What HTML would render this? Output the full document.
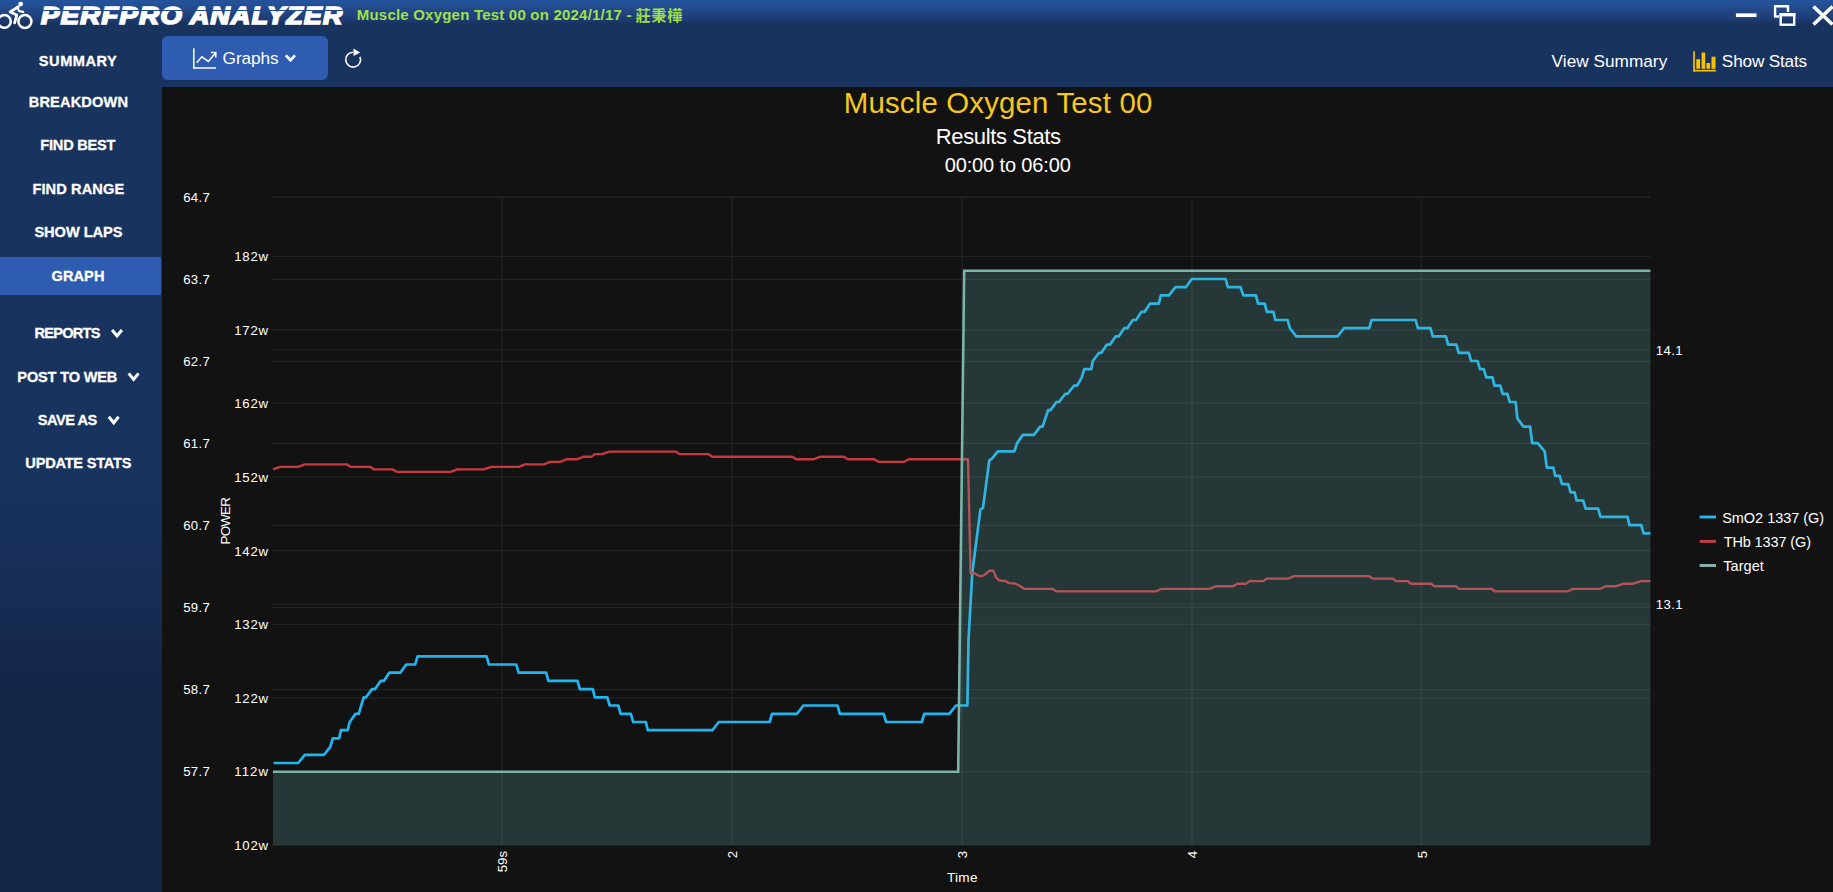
<!DOCTYPE html><html lang="en"><head><meta charset="utf-8"><title>PerfPRO Analyzer</title><style>
*{box-sizing:border-box;margin:0;padding:0}
html,body{width:1833px;height:892px;overflow:hidden;background:#19335f;font-family:"Liberation Sans", "Noto Sans CJK TC", sans-serif;color:#fff}
.a{position:absolute;white-space:nowrap}
#hdr{left:0;top:0;width:1833px;height:24px;background:linear-gradient(#25539b 0px,#24529a 2.5px,#234a8c 8px,#20417c 15px,#1c3b72 20px,#19335f 23.6px)}
#side{left:0;top:24px;width:161.6px;height:868px;background:linear-gradient(#19335f 0px,#19335f 462px,#17305a 500px,#142648 680px,#142648 100%)}
#chart{left:161.6px;top:87.2px;width:1671.4px;height:804.8px;background:#121212}
#active{left:0;top:256.7px;width:161px;height:37.9px;background:#2d5cb0}
#gbtn{left:161.5px;top:36px;width:166px;height:44.4px;border-radius:6px;background:#2d5cb0}
svg{position:absolute;left:0;top:0;overflow:visible}
svg text{font-family:"Liberation Sans", "Noto Sans CJK TC", sans-serif;fill:#fff}
</style></head><body>
<div id="hdr" class="a"></div>
<div id="side" class="a"></div>
<div id="chart" class="a"></div>
<div id="active" class="a"></div>
<div id="gbtn" class="a"></div>
<div id="logo1" class="a" style="left:40.9px;top:1.9px;font-size:23px;line-height:28px;font-weight:bold;font-style:italic;transform-origin:0 0;letter-spacing:1.2px;-webkit-text-stroke:1.7px #fff;transform:scaleX(1.1879428175701339)">PERFPRO</div>
<div id="logo2" class="a" style="left:189.6px;top:1.9px;font-size:23px;line-height:28px;font-weight:bold;font-style:italic;transform-origin:0 0;letter-spacing:1.2px;-webkit-text-stroke:1.7px #fff;transform:scaleX(1.1540270917624427)">ANALYZER</div>
<div class="a" style="left:36px;top:9.8px;width:312px;height:1.1px;background:#22498a"></div>
<div id="n0" class="a" style="left:38.81px;top:52.22px;font-size:14.6px;line-height:18.25px;letter-spacing:0.529px;font-weight:bold;-webkit-text-stroke:0.3px #fff;">SUMMARY</div>
<div id="n1" class="a" style="left:28.73px;top:93.12px;font-size:14.6px;line-height:18.25px;letter-spacing:0.145px;font-weight:bold;-webkit-text-stroke:0.3px #fff;">BREAKDOWN</div>
<div id="n2" class="a" style="left:40.37px;top:136.42px;font-size:14.6px;line-height:18.25px;letter-spacing:-0.234px;font-weight:bold;-webkit-text-stroke:0.3px #fff;">FIND BEST</div>
<div id="n3" class="a" style="left:32.45px;top:179.92px;font-size:14.6px;line-height:18.25px;letter-spacing:0.104px;font-weight:bold;-webkit-text-stroke:0.3px #fff;">FIND RANGE</div>
<div id="n4" class="a" style="left:34.44px;top:223.12px;font-size:14.6px;line-height:18.25px;letter-spacing:-0.049px;font-weight:bold;-webkit-text-stroke:0.3px #fff;">SHOW LAPS</div>
<div id="n5" class="a" style="left:51.51px;top:266.52px;font-size:14.6px;line-height:18.25px;letter-spacing:0.058px;font-weight:bold;-webkit-text-stroke:0.3px #fff;">GRAPH</div>
<div id="n6" class="a" style="left:34.52px;top:324.12px;font-size:14.6px;line-height:18.25px;letter-spacing:-0.768px;font-weight:bold;-webkit-text-stroke:0.3px #fff;">REPORTS</div>
<div id="n7" class="a" style="left:17.37px;top:367.52px;font-size:14.6px;line-height:18.25px;letter-spacing:-0.185px;font-weight:bold;-webkit-text-stroke:0.3px #fff;">POST TO WEB</div>
<div id="n8" class="a" style="left:37.80px;top:410.82px;font-size:14.6px;line-height:18.25px;letter-spacing:-0.494px;font-weight:bold;-webkit-text-stroke:0.3px #fff;">SAVE AS</div>
<div id="n9" class="a" style="left:25.33px;top:454.42px;font-size:14.6px;line-height:18.25px;letter-spacing:-0.229px;font-weight:bold;-webkit-text-stroke:0.3px #fff;">UPDATE STATS</div>
<div id="graphs" class="a" style="left:222.62px;top:48.09px;font-size:17.2px;line-height:21.5px;letter-spacing:-0.073px;">Graphs</div>
<div id="vsum" class="a" style="left:1551.60px;top:51.49px;font-size:17.2px;line-height:21.5px;letter-spacing:0.034px;">View Summary</div>
<div id="sstat" class="a" style="left:1721.86px;top:51.39px;font-size:17.2px;line-height:21.5px;letter-spacing:-0.180px;">Show Stats</div>
<div id="t1" class="a" style="left:843.83px;top:84.84px;font-size:29.4px;line-height:36.75px;letter-spacing:0.174px;color:#f6c81e;">Muscle Oxygen Test 00</div>
<div id="t2" class="a" style="left:935.82px;top:122.83px;font-size:22px;line-height:27.5px;letter-spacing:-0.366px;">Results Stats</div>
<div id="t3" class="a" style="left:944.70px;top:152.97px;font-size:20px;line-height:25.0px;letter-spacing:-0.138px;">00:00 to 06:00</div>
<div id="sub1" class="a" style="left:356.75px;top:6.03px;font-size:15px;line-height:18.75px;letter-spacing:0.210px;font-weight:bold;color:#a0e048;">Muscle Oxygen Test 00 on 2024/1/17 -</div>
<div id="sub2" class="a" style="left:635.40px;top:6.13px;font-size:15.2px;line-height:19.0px;letter-spacing:0.738px;font-weight:bold;color:#a0e048;">莊秉樺</div>
<div id="time" class="a" style="left:946.91px;top:868.99px;font-size:13.6px;line-height:17.0px;letter-spacing:0.321px;">Time</div>
<div id="l647" class="a" style="left:183.19px;top:189.78px;font-size:13.2px;line-height:16.5px;letter-spacing:0.289px;">64.7</div>
<div id="l637" class="a" style="left:183.19px;top:272.28px;font-size:13.2px;line-height:16.5px;letter-spacing:0.289px;">63.7</div>
<div id="l627" class="a" style="left:183.19px;top:354.28px;font-size:13.2px;line-height:16.5px;letter-spacing:0.289px;">62.7</div>
<div id="l617" class="a" style="left:183.19px;top:436.28px;font-size:13.2px;line-height:16.5px;letter-spacing:0.289px;">61.7</div>
<div id="l607" class="a" style="left:183.19px;top:518.28px;font-size:13.2px;line-height:16.5px;letter-spacing:0.289px;">60.7</div>
<div id="l597" class="a" style="left:183.19px;top:600.28px;font-size:13.2px;line-height:16.5px;letter-spacing:0.289px;">59.7</div>
<div id="l587" class="a" style="left:183.19px;top:682.28px;font-size:13.2px;line-height:16.5px;letter-spacing:0.289px;">58.7</div>
<div id="l577" class="a" style="left:183.19px;top:764.28px;font-size:13.2px;line-height:16.5px;letter-spacing:0.289px;">57.7</div>
<div id="p182w" class="a" style="left:234.29px;top:248.68px;font-size:13.2px;line-height:16.5px;letter-spacing:0.728px;">182w</div>
<div id="p172w" class="a" style="left:234.29px;top:322.68px;font-size:13.2px;line-height:16.5px;letter-spacing:0.728px;">172w</div>
<div id="p162w" class="a" style="left:234.29px;top:396.18px;font-size:13.2px;line-height:16.5px;letter-spacing:0.728px;">162w</div>
<div id="p152w" class="a" style="left:234.29px;top:469.68px;font-size:13.2px;line-height:16.5px;letter-spacing:0.728px;">152w</div>
<div id="p142w" class="a" style="left:234.29px;top:543.68px;font-size:13.2px;line-height:16.5px;letter-spacing:0.728px;">142w</div>
<div id="p132w" class="a" style="left:234.29px;top:617.18px;font-size:13.2px;line-height:16.5px;letter-spacing:0.728px;">132w</div>
<div id="p122w" class="a" style="left:234.29px;top:690.68px;font-size:13.2px;line-height:16.5px;letter-spacing:0.728px;">122w</div>
<div id="p112w" class="a" style="left:234.29px;top:764.18px;font-size:13.2px;line-height:16.5px;letter-spacing:1.056px;">112w</div>
<div id="p102w" class="a" style="left:234.29px;top:837.68px;font-size:13.2px;line-height:16.5px;letter-spacing:0.728px;">102w</div>
<div id="r141" class="a" style="left:1655.76px;top:342.68px;font-size:13.2px;line-height:16.5px;letter-spacing:0.354px;">14.1</div>
<div id="r131" class="a" style="left:1655.76px;top:596.68px;font-size:13.2px;line-height:16.5px;letter-spacing:0.354px;">13.1</div>
<div id="lg1" class="a" style="left:1722.17px;top:508.62px;font-size:14.5px;line-height:18.12px;letter-spacing:-0.030px;">SmO2 1337 (G)</div>
<div id="lg2" class="a" style="left:1723.67px;top:533.12px;font-size:14.5px;line-height:18.12px;letter-spacing:-0.119px;">THb 1337 (G)</div>
<div id="lg3" class="a" style="left:1723.23px;top:557.02px;font-size:14.5px;line-height:18.12px;letter-spacing:0.068px;">Target</div>
<svg width="1833" height="892" viewBox="0 0 1833 892">
<path d="M112.1,330.0 L117,336.0 L121.9,330.0" fill="none" stroke="#fff" stroke-width="3"/>
<path d="M128.7,373.4 L133.6,379.4 L138.5,373.4" fill="none" stroke="#fff" stroke-width="3"/>
<path d="M108.8,416.8 L113.7,422.8 L118.6,416.8" fill="none" stroke="#fff" stroke-width="3"/>
<g id="bike" fill="none" stroke="#fff" stroke-linecap="round" stroke-linejoin="round"><circle cx="4.4" cy="21.4" r="6.4" stroke-width="2.5"/><circle cx="24.9" cy="21.4" r="6.5" stroke-width="2.5"/><path d="M18.4,6.6 L10.2,12 L16.8,15 L14.6,23" stroke-width="2.8"/><path d="M17.6,8 L19.3,11.2 L23.2,11.8" stroke-width="2.2"/><circle cx="20.7" cy="4.1" r="2.4" fill="#fff" stroke="none"/></g>
<g stroke="#fff" fill="none"><path d="M1735.9,15.2 H1756.5" stroke-width="3.7"/><path d="M1779,16.5 H1775.1 V6.2 H1788 V12" stroke-width="2.4"/><rect x="1780.7" y="14.6" width="13.5" height="10.1" stroke-width="2.4"/><path d="M1779.5,14.7 H1795.4" stroke-width="3.4"/><path d="M1813.5,6.5 L1832.5,24.5 M1832.5,6.5 L1813.5,24.5" stroke-width="3.6"/></g>
<g stroke="#fff" fill="none" stroke-width="1.5"><path d="M193.8,48.3 V68 H216"/><path d="M196.7,62.7 L201.9,56.8 L208.4,61.4 L215.4,53"/><path d="M211,52.6 L215.8,52.6 L215.8,57.4"/></g>
<path d="M285.9,55.3 L290.45,60.2 L295,55.3" fill="none" stroke="#fff" stroke-width="2.7"/>
<g><path d="M360,56.9 A7.4,7.4 0 1 1 353.1,52.3" fill="none" stroke="#fff" stroke-width="1.6"/><path d="M353.4,48.6 L360.1,52.4 L353.6,55.9 Z" fill="#fff"/></g>
<g fill="#f5c400"><rect x="1693.2" y="51.3" width="1.7" height="20.2"/><rect x="1693.2" y="69.9" width="22.8" height="1.6"/><rect x="1696.3" y="59.2" width="3.8" height="9.6"/><rect x="1701.6" y="52.5" width="3.6" height="16.3"/><rect x="1706.4" y="63" width="3.7" height="5.8"/><rect x="1711.5" y="56.7" width="4" height="12.1"/></g>
<g stroke="#232323" stroke-width="1.3">
<path d="M272,197 H1650.5"/>
<path d="M272,279.4 H1650.5"/>
<path d="M272,361.5 H1650.5"/>
<path d="M272,443.4 H1650.5"/>
<path d="M272,525.4 H1650.5"/>
<path d="M272,607.3 H1650.5"/>
<path d="M272,689.6 H1650.5"/>
<path d="M272,771.6 H1650.5"/>
<path d="M272,256.4 H1650.5"/>
<path d="M272,330 H1650.5"/>
<path d="M272,403.2 H1650.5"/>
<path d="M272,476.8 H1650.5"/>
<path d="M272,550.7 H1650.5"/>
<path d="M272,624.4 H1650.5"/>
<path d="M272,697.8 H1650.5"/>
<path d="M272,845.2 H1650.5"/>
<path d="M272,349.8 H1650.5"/>
<path d="M272,604.1 H1650.5"/>
<path d="M502,197 V845"/>
<path d="M732,197 V845"/>
<path d="M962,197 V845"/>
<path d="M1192,197 V845"/>
<path d="M1421.3,197 V845"/>
</g>
<path d="M273.5,763.0 L298.2,763.0 L304.8,754.8 L324.1,754.8 L330.4,746.6 L332.8,738.4 L339.1,738.4 L340.9,730.2 L347.7,730.2 L349.7,722.0 L355.5,713.8 L358.7,713.8 L363.7,697.3 L366.0,697.3 L372.0,689.1 L375.1,689.1 L380.6,680.9 L383.8,680.9 L389.3,672.7 L400.3,672.7 L406.2,664.5 L415.2,664.5 L417.5,656.3 L486.6,656.3 L488.9,664.5 L516.3,664.5 L518.6,672.7 L546.1,672.7 L548.4,680.9 L577.5,680.9 L579.8,689.1 L592.9,689.1 L594.7,697.3 L607.3,697.3 L609.7,705.5 L618.3,705.5 L620.6,713.8 L630.8,713.8 L633.2,722.0 L645.8,722.0 L647.8,730.2 L712.4,730.2 L718.7,722.0 L769.6,722.0 L772.0,713.8 L797.1,713.8 L803.4,705.5 L837.6,705.5 L839.8,713.8 L883.7,713.8 L886.2,722.0 L921.8,722.0 L924.2,713.8 L949.3,713.8 L955.9,705.5 L967.4,705.5 L968.5,640.0 L972.3,572.5 L980.4,509.7 L983.0,507.9 L989.3,460.4 L992.0,458.6 L997.8,451.3 L1014.4,451.3 L1017.1,443.1 L1022.9,434.9 L1033.3,434.9 L1033.9,434.9 L1040.2,426.6 L1042.6,426.6 L1048.1,410.2 L1050.4,410.2 L1056.4,402.0 L1059.0,402.0 L1065.3,393.8 L1067.7,393.8 L1074.0,385.6 L1077.1,385.6 L1081.8,377.4 L1084.2,369.2 L1091.2,369.2 L1092.8,361.0 L1099.1,352.8 L1101.4,352.8 L1106.9,344.6 L1110.1,344.6 L1115.6,336.4 L1118.7,336.4 L1124.2,328.2 L1127.3,328.2 L1132.8,320.0 L1136.0,320.0 L1141.5,311.8 L1144.6,311.8 L1150.1,303.6 L1158.8,303.6 L1160.9,295.4 L1169.0,295.4 L1175.3,287.2 L1185.8,287.2 L1191.8,279.0 L1225.6,279.0 L1227.9,287.2 L1240.5,287.2 L1243.3,295.4 L1255.9,295.4 L1258.1,303.6 L1264.8,303.6 L1266.8,311.8 L1273.4,311.8 L1275.3,320.0 L1287.6,320.0 L1289.9,328.2 L1296.2,336.4 L1337.0,336.4 L1337.5,336.4 L1344.1,328.2 L1369.2,328.2 L1371.6,320.0 L1415.6,320.0 L1417.9,328.2 L1430.5,328.2 L1432.8,336.4 L1445.9,336.4 L1448.1,344.6 L1456.4,344.6 L1458.7,352.8 L1468.9,352.8 L1471.0,361.0 L1477.6,361.0 L1479.9,369.2 L1483.8,369.2 L1486.2,377.4 L1492.5,377.4 L1494.5,385.6 L1500.3,385.6 L1502.7,393.8 L1507.4,393.8 L1509.7,402.0 L1515.7,402.0 L1517.3,418.4 L1523.5,426.6 L1530.1,426.6 L1532.2,443.1 L1537.7,443.1 L1544.7,451.3 L1546.8,467.7 L1553.4,467.7 L1555.3,475.9 L1559.7,475.9 L1562.0,484.1 L1568.3,484.1 L1570.6,492.3 L1574.6,492.3 L1576.6,500.5 L1583.2,500.5 L1585.6,508.7 L1598.1,508.7 L1600.5,516.9 L1627.5,516.9 L1629.5,525.1 L1641.3,525.1 L1643.6,533.3 L1650.4,533.3" fill="none" stroke="#1fb6f0" stroke-width="2.7" stroke-linejoin="round"/>
<path d="M272.9,469.4 L279.8,466.8 L298.2,466.8 L304.7,464.3 L346.6,464.3 L350.5,466.8 L370.2,466.8 L374.1,469.4 L393.1,469.4 L397.0,471.9 L450.7,471.9 L457.2,469.4 L483.4,469.4 L491.3,466.8 L519.0,466.8 L524.9,464.3 L543.9,464.3 L550.4,461.8 L560.2,461.8 L566.8,459.2 L577.3,459.2 L583.8,456.7 L591.7,456.7 L594.9,454.1 L602.1,454.1 L609.3,451.6 L676.1,451.6 L679.4,454.1 L708.2,454.1 L712.1,456.7 L792.2,456.7 L796.1,459.2 L813.8,459.2 L820.3,456.7 L843.9,456.7 L847.8,459.2 L874.0,459.2 L878.6,461.8 L904.1,461.8 L908.7,459.2 L965.7,459.2 L968.0,459.2 L970.6,573.0 L974.4,573.3 L979.6,576.2 L983.6,575.7 L989.5,570.7 L993.4,570.7 L996.0,577.3 L999.3,580.5 L1005.8,581.2 L1009.1,583.2 L1015.0,583.5 L1019.6,585.8 L1024.2,588.8 L1052.3,588.8 L1056.2,591.3 L1156.4,591.3 L1161.6,588.8 L1209.6,588.8 L1216.2,586.2 L1233.2,586.2 L1237.1,583.7 L1246.3,583.7 L1249.6,581.1 L1263.3,581.1 L1266.6,578.6 L1288.2,578.6 L1294.1,576.1 L1368.7,576.1 L1372.7,578.6 L1392.9,578.6 L1395.6,581.1 L1408.0,581.1 L1410.6,583.7 L1431.1,583.7 L1434.4,586.2 L1456.0,586.2 L1458.6,588.8 L1491.4,588.8 L1494.6,591.3 L1568.0,591.3 L1573.2,588.8 L1600.0,588.8 L1605.9,586.2 L1616.4,586.2 L1623.6,583.7 L1633.4,583.7 L1641.3,581.1 L1650.4,581.1" fill="none" stroke="#ca383f" stroke-width="2.35" stroke-linejoin="round"/>
<path d="M273,771.8 L958.2,771.8 L964.2,270.8 L1650.5,270.8 L1650.5,845 L273,845 Z" fill="rgba(100,178,176,0.235)" stroke="none"/>
<path d="M273,771.8 L958.2,771.8 L964.2,270.8 L1650.5,270.8" fill="none" stroke="#7ab4ab" stroke-width="2.6"/>
<g font-size="13.2">
<text transform="translate(506.8,851) rotate(-90)" text-anchor="end">59s</text>
<text transform="translate(736.8,851) rotate(-90)" text-anchor="end">2</text>
<text transform="translate(966.8,851) rotate(-90)" text-anchor="end">3</text>
<text transform="translate(1197.3,851) rotate(-90)" text-anchor="end">4</text>
<text transform="translate(1426.8,851) rotate(-90)" text-anchor="end">5</text>
<text transform="translate(230.3,521.2) rotate(-90)" text-anchor="middle" font-size="13.4" letter-spacing="-0.8">POWER</text>
</g>
<path d="M1699.6,517 H1716" stroke="#22b8ee" stroke-width="2.9"/>
<path d="M1699.6,541.4 H1716" stroke="#c43c44" stroke-width="2.9"/>
<path d="M1699.6,565.5 H1716" stroke="#8fb6b0" stroke-width="2.9"/>
</svg></body></html>
